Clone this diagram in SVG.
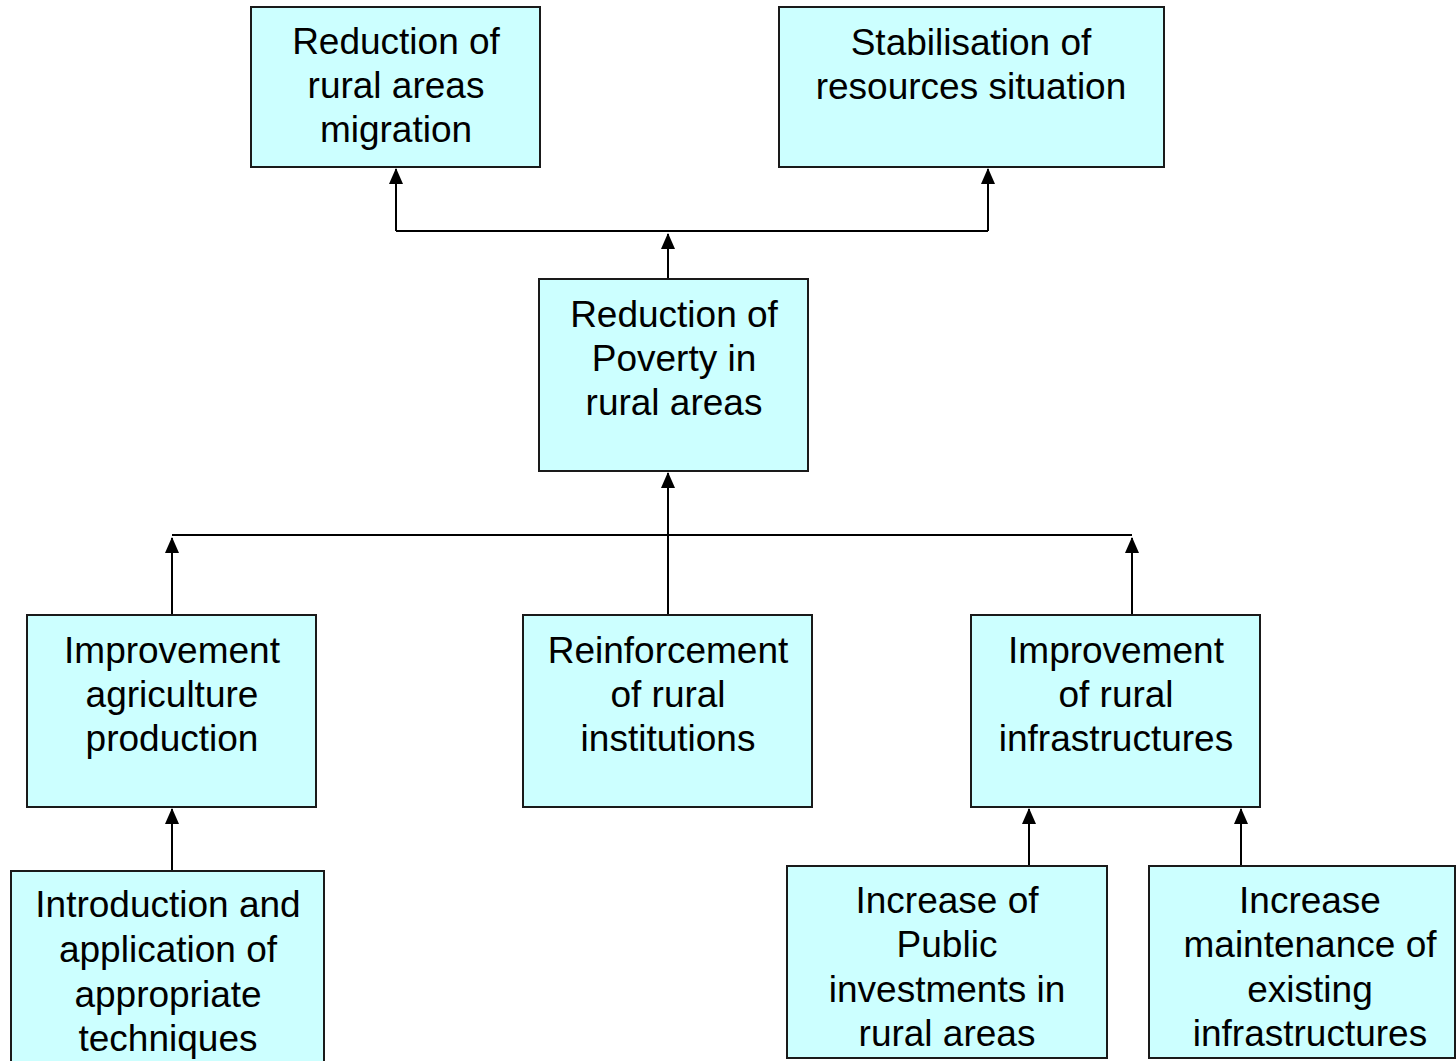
<svg xmlns="http://www.w3.org/2000/svg" width="1456" height="1061" viewBox="0 0 1456 1061">
<style>
  .box { fill: #CCFFFF; stroke: #1a1a1a; stroke-width: 2; }
  .lbl { font-family: "Liberation Sans", Arial, sans-serif; font-size: 37px; fill: #000; text-anchor: middle; }
  .conn { fill: none; stroke: #000; stroke-width: 2; }
</style>
<defs>
  <marker id="arr" markerWidth="16" markerHeight="14" refX="15" refY="7" orient="auto" markerUnits="userSpaceOnUse" viewBox="0 0 16 14">
    <path d="M0,0 L16,7 L0,14 Z" fill="#000"/>
  </marker>
</defs>
<rect width="1456" height="1061" fill="#fff"/>

<g id="connectors">
  <path class="conn" d="M396,231 H988"/>
  <path class="conn" d="M396,231 V169" marker-end="url(#arr)"/>
  <path class="conn" d="M988,231 V169" marker-end="url(#arr)"/>
  <path class="conn" d="M668,279 V234" marker-end="url(#arr)"/>
  <path class="conn" d="M172,535 H1132"/>
  <path class="conn" d="M668,615 V473" marker-end="url(#arr)"/>
  <path class="conn" d="M172,615 V538" marker-end="url(#arr)"/>
  <path class="conn" d="M1132,615 V538" marker-end="url(#arr)"/>
  <path class="conn" d="M172,871 V809" marker-end="url(#arr)"/>
  <path class="conn" d="M1029,866 V809" marker-end="url(#arr)"/>
  <path class="conn" d="M1241,866 V809" marker-end="url(#arr)"/>
</g>

<g id="node-migration">
  <rect class="box" x="251" y="7" width="289" height="160"/>
  <text class="lbl" x="396" y="54">Reduction of</text>
  <text class="lbl" x="396" y="98">rural areas</text>
  <text class="lbl" x="396" y="142">migration</text>
</g>
<g id="node-stabilisation">
  <rect class="box" x="779" y="7" width="385" height="160"/>
  <text class="lbl" x="971" y="55">Stabilisation of</text>
  <text class="lbl" x="971" y="99">resources situation</text>
</g>
<g id="node-poverty">
  <rect class="box" x="539" y="279" width="269" height="192"/>
  <text class="lbl" x="674" y="327">Reduction of</text>
  <text class="lbl" x="674" y="371">Poverty in</text>
  <text class="lbl" x="674" y="415">rural areas</text>
</g>
<g id="node-agriculture">
  <rect class="box" x="27" y="615" width="289" height="192"/>
  <text class="lbl" x="172" y="663">Improvement</text>
  <text class="lbl" x="172" y="707">agriculture</text>
  <text class="lbl" x="172" y="751">production</text>
</g>
<g id="node-institutions">
  <rect class="box" x="523" y="615" width="289" height="192"/>
  <text class="lbl" x="668" y="663">Reinforcement</text>
  <text class="lbl" x="668" y="707">of rural</text>
  <text class="lbl" x="668" y="751">institutions</text>
</g>
<g id="node-infrastructures">
  <rect class="box" x="971" y="615" width="289" height="192"/>
  <text class="lbl" x="1116" y="663">Improvement</text>
  <text class="lbl" x="1116" y="707">of rural</text>
  <text class="lbl" x="1116" y="751">infrastructures</text>
</g>
<g id="node-techniques">
  <rect class="box" x="11" y="871" width="313" height="200"/>
  <text class="lbl" x="168" y="917">Introduction and</text>
  <text class="lbl" x="168" y="962">application of</text>
  <text class="lbl" x="168" y="1007">appropriate</text>
  <text class="lbl" x="168" y="1051">techniques</text>
</g>
<g id="node-investments">
  <rect class="box" x="787" y="866" width="320" height="192"/>
  <text class="lbl" x="947" y="913">Increase of</text>
  <text class="lbl" x="947" y="957">Public</text>
  <text class="lbl" x="947" y="1002">investments in</text>
  <text class="lbl" x="947" y="1046">rural areas</text>
</g>
<g id="node-maintenance">
  <rect class="box" x="1149" y="866" width="306" height="192"/>
  <text class="lbl" x="1310" y="913">Increase</text>
  <text class="lbl" x="1310" y="957">maintenance of</text>
  <text class="lbl" x="1310" y="1002">existing</text>
  <text class="lbl" x="1310" y="1046">infrastructures</text>
</g>
</svg>
